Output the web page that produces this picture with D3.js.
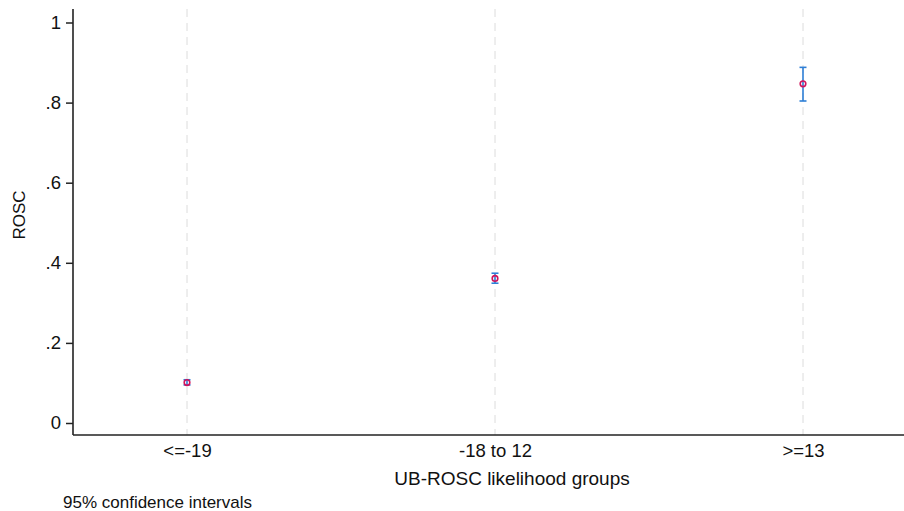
<!DOCTYPE html>
<html>
<head>
<meta charset="utf-8">
<script src="https://cdn.jsdelivr.net/npm/d3@7"></script>
<style>
  html, body { margin: 0; padding: 0; background: #fff; }
  svg { display: block; }
  text { font-family: "Liberation Sans", Arial, sans-serif; fill: #111; }
</style>
</head>
<body>
<svg id="chart" width="904" height="511"></svg>
<script>
// Predicted ROSC by UB-ROSC likelihood group, with 95% CIs
const groups = ["<=-19", "-18 to 12", ">=13"];
const estimate = [0.101, 0.361, 0.847];
const ciLow = [0.095, 0.349, 0.804];
const ciHigh = [0.108, 0.374, 0.888];
const yTicks = [0, 0.2, 0.4, 0.6, 0.8, 1];
const yTickLabels = ["0", ".2", ".4", ".6", ".8", "1"];

const svg = d3.select("#chart");
const plotLeft = 73, plotRight = 904, plotTop = 9, plotBottom = 435;

const x = d3.scalePoint().domain(groups).range([187, 803]);
const y = d3.scaleLinear().domain([0, 1]).range([423, 22.5]);

// dashed vertical guides at each group
svg.append("g").selectAll("line").data(groups).join("line")
  .attr("x1", d => x(d)).attr("x2", d => x(d))
  .attr("y1", plotTop).attr("y2", plotBottom)
  .attr("stroke", "#dcdcdc").attr("stroke-width", 1)
  .attr("stroke-dasharray", "8,6");

// y axis
const yAxis = d3.axisLeft(y).tickValues(yTicks)
  .tickFormat((d, i) => yTickLabels[i]).tickSize(7).tickPadding(5);
const gy = svg.append("g").attr("transform", `translate(${plotLeft},0)`).call(yAxis);
gy.select(".domain").remove();
gy.selectAll(".tick line").attr("stroke", "#222").attr("stroke-width", 1.5);
gy.selectAll(".tick text").attr("font-size", 18.5).attr("fill", "#111")
  .attr("font-family", "Liberation Sans, Arial, sans-serif");
svg.append("line").attr("x1", plotLeft).attr("x2", plotLeft).attr("y1", plotTop).attr("y2", plotBottom)
  .attr("stroke", "#222").attr("stroke-width", 1.6);

// x axis
const xAxis = d3.axisBottom(x).tickSize(0).tickPadding(9);
const gx = svg.append("g").attr("transform", `translate(0,${plotBottom})`).call(xAxis);
gx.select(".domain").remove();
gx.selectAll(".tick text").attr("font-size", 18.5).attr("fill", "#111")
  .attr("font-family", "Liberation Sans, Arial, sans-serif");
svg.append("line").attr("x1", plotLeft).attr("x2", plotRight).attr("y1", plotBottom).attr("y2", plotBottom)
  .attr("stroke", "#222").attr("stroke-width", 1.6);

// confidence intervals
const bars = svg.append("g").attr("stroke", "#2e7fd6").attr("stroke-width", 1.6);
groups.forEach((g, i) => {
  const cx = x(g);
  bars.append("line").attr("x1", cx).attr("x2", cx).attr("y1", y(ciLow[i])).attr("y2", y(ciHigh[i]));
  bars.append("line").attr("x1", cx - 3.5).attr("x2", cx + 3.5).attr("y1", y(ciLow[i])).attr("y2", y(ciLow[i]));
  bars.append("line").attr("x1", cx - 3.5).attr("x2", cx + 3.5).attr("y1", y(ciHigh[i])).attr("y2", y(ciHigh[i]));
});

// point estimates
svg.append("g").selectAll("circle").data(groups).join("circle")
  .attr("cx", d => x(d)).attr("cy", (d, i) => y(estimate[i]))
  .attr("r", 2.8).attr("fill", "none")
  .attr("stroke", "#d0145c").attr("stroke-width", 1.6);

// titles
svg.append("text").attr("transform", "translate(25,215) rotate(-90)")
  .attr("text-anchor", "middle").attr("font-size", 17).text("ROSC");
svg.append("text").attr("x", 512).attr("y", 485)
  .attr("text-anchor", "middle").attr("font-size", 19).text("UB-ROSC likelihood groups");
svg.append("text").attr("x", 63).attr("y", 508)
  .attr("font-size", 17).text("95% confidence intervals");
</script>
</body>
</html>
